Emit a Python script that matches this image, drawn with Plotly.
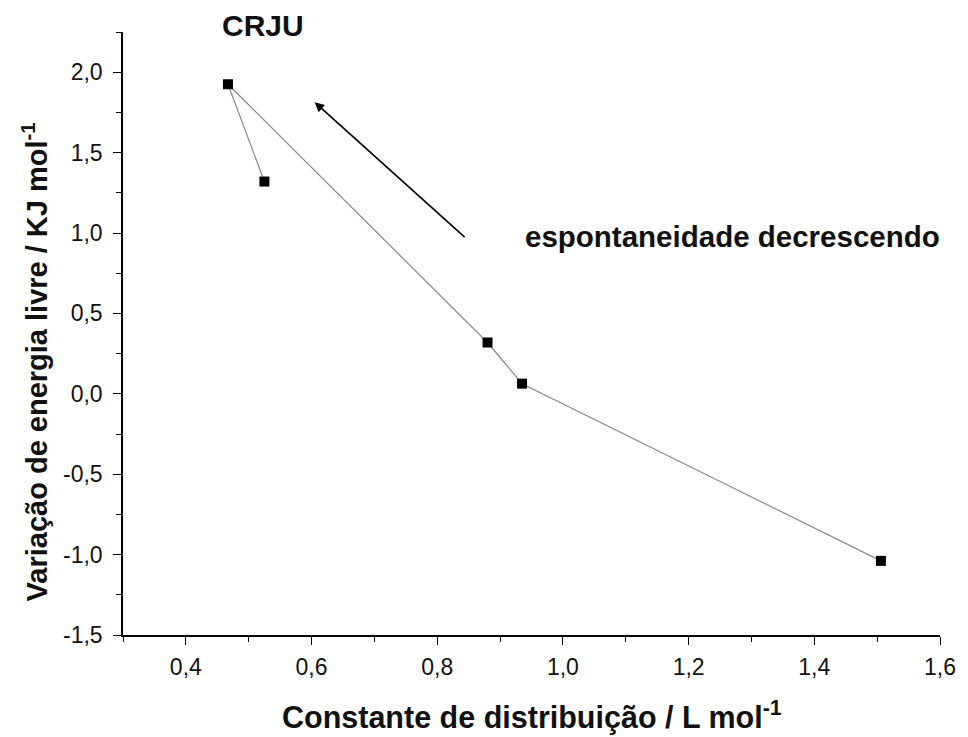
import plotly.graph_objects as go

# Distribution constant (L/mol) vs. free-energy change (kJ/mol), in plotted order
k_dist = [0.525, 0.467, 0.880, 0.935, 1.506]
delta_g = [1.32, 1.925, 0.319, 0.063, -1.039]

x_ticks = [0.4, 0.6, 0.8, 1.0, 1.2, 1.4, 1.6]
x_tick_text = ["0,4", "0,6", "0,8", "1,0", "1,2", "1,4", "1,6"]
y_ticks = [-1.5, -1.0, -0.5, 0.0, 0.5, 1.0, 1.5, 2.0]
y_tick_text = ["-1,5", "-1,0", "-0,5", "0,0", "0,5", "1,0", "1,5", "2,0"]

FONT = "Liberation Sans, Arial, sans-serif"

fig = go.Figure()
fig.add_trace(go.Scatter(
    x=k_dist, y=delta_g, mode="lines+markers",
    line=dict(color="#8a8a8a", width=1.2),
    marker=dict(symbol="square", size=10, color="black"),
    showlegend=False,
))

axis_common = dict(
    showgrid=False, zeroline=False, showline=True, linecolor="black", linewidth=1.5,
    ticks="outside", ticklen=8, tickwidth=1.3, tickcolor="black",
    tickfont=dict(family=FONT, size=23, color="#111111"),
    mirror=False,
)

fig.update_layout(
    width=968, height=737,
    margin=dict(l=123, r=18, t=32, b=102),
    paper_bgcolor="white", plot_bgcolor="white",
    xaxis=dict(
        range=[0.3, 1.6], tickvals=x_ticks, ticktext=x_tick_text, ticklabelstandoff=3,
        minor=dict(dtick=0.1, tick0=0.3, ticks="outside", ticklen=5, tickcolor="black", tickwidth=1.2),
        **axis_common,
    ),
    yaxis=dict(
        range=[-1.5, 2.25], tickvals=y_ticks, ticktext=y_tick_text, ticklabelstandoff=6,
        minor=dict(dtick=0.25, tick0=-1.5, ticks="outside", ticklen=5, tickcolor="black", tickwidth=1.2),
        **axis_common,
    ),
)

# Axis titles
fig.add_annotation(
    x=0.5, y=0, xref="paper", yref="paper", yanchor="middle", yshift=-80,
    text="<b>Constante de distribuição / L mol<sup>-1</sup></b>", showarrow=False,
    font=dict(family=FONT, size=30.5, color="#111111"),
)
fig.add_annotation(
    x=0, y=0.452, xref="paper", yref="paper", xanchor="center", yanchor="middle",
    xshift=-88, textangle=-90,
    text="<b>Variação de energia livre / KJ mol<sup>-1</sup></b>", showarrow=False,
    font=dict(family=FONT, size=29, color="#111111"),
)

# Sample label above the plot area
fig.add_annotation(
    x=0.523, y=1, xref="x", yref="paper", yanchor="middle", yshift=7,
    text="<b>CRJU</b>", showarrow=False,
    font=dict(family=FONT, size=30, color="#111111"),
)

# Direction arrow
fig.add_annotation(
    x=0.605, y=1.813, ax=0.846, ay=0.966, xref="x", yref="y", axref="x", ayref="y",
    text="", showarrow=True, arrowhead=2, arrowsize=1.2, arrowwidth=1.6, arrowcolor="black",
)

fig.add_annotation(
    x=0.937, y=0.98, xref="x", yref="y", xanchor="left", yanchor="middle",
    text="<b>espontaneidade decrescendo</b>", showarrow=False,
    font=dict(family=FONT, size=29.5, color="#111111"),
)

fig.write_html("out.html")
